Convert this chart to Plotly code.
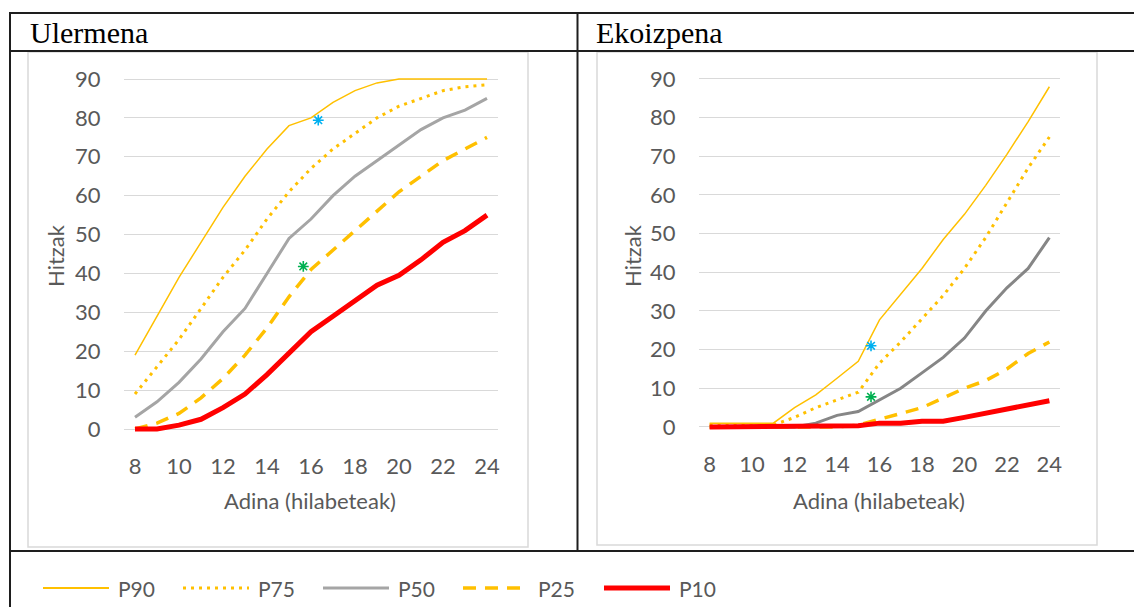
import plotly.graph_objects as go

# ---------------- data ----------------
months = list(range(8, 25))
x_ticks = [8, 10, 12, 14, 16, 18, 20, 22, 24]
y_ticks = [0, 10, 20, 30, 40, 50, 60, 70, 80, 90]

series_names = ["P90", "P75", "P50", "P25", "P10"]

ul_p90 = [19, 29, 39, 48, 57, 65, 72, 78, 80, 84, 87, 89, 90, 90, 90, 90, 90]
ul_p75 = [9, 16, 23, 31, 39, 46, 54, 61, 67, 72, 76, 80, 83, 85, 87, 88, 88.5]
ul_p50 = [3, 7, 12, 18, 25, 31, 40, 49, 54, 60, 65, 69, 73, 77, 80, 82, 85]
ul_p25 = [0, 1.5, 4, 8, 13, 19, 26, 34, 41, 46, 51, 56, 61, 65, 69, 72, 75]
ul_p10 = [0, 0, 1, 2.5, 5.5, 9, 14, 19.5, 25, 29, 33, 37, 39.5, 43.5, 48, 51, 55]

ek_p90 = [1, 1, 1, 1, 5, 8.3, 12.6, 17, 27.7, 34.5, 41, 48.5, 55, 62.5, 70.5, 79, 88]
ek_p75 = [0.5, 0.5, 0.5, 0.5, 2.5, 5, 7, 9, 16.5, 22, 28, 34, 41, 49, 58, 67, 75]
ek_p50 = [0, 0, 0, 0, 0, 1, 3, 4, 7, 10, 14, 18, 23, 30, 36, 41, 49]
ek_p25 = [0, 0, 0, 0, 0, 0, 0, 0.5, 2, 3.5, 5, 7.5, 10, 12, 15, 19, 22]
ek_p10 = [0, 0, 0, 0, 0, 0, 0, 0.3, 1, 1, 1.5, 1.5, 2.5, 3.5, 4.5, 5.5, 6.8]

# asterisk markers (x, y)
ul_star_x = [16.33, 15.65]
ul_star_y = [79.4, 41.8]
ek_star_x = [15.6, 15.6]
ek_star_y = [21, 7.8]
star_colors = ["#00B0F0", "#00B050"]

panel_titles = ["Ulermena", "Ekoizpena"]
y_title = "Hitzak"
x_title = "Adina (hilabeteak)"

# ---------------- styles ----------------
W, H = 1134, 607
YELLOW = "#FFC000"
styles = {
    "P90": dict(color=YELLOW, width=1.5, dash="solid"),
    "P75": dict(color=YELLOW, width=3, dash="3px,5px"),
    "P50": dict(color="#A5A5A5", width=3, dash="solid"),
    "P25": dict(color=YELLOW, width=3.5, dash="13px,9px"),
    "P10": dict(color="#FF0000", width=5, dash="solid"),
}
TXT = "#595959"
TICKFONT = dict(family="Lato", size=22, color=TXT)


def px(x):
    return x / W


def py(y):
    return 1 - y / H


fig = go.Figure()

panels = [
    dict(xa="x", ya="y", series=[ul_p90, ul_p75, ul_p50, ul_p25, ul_p10],
         sx=ul_star_x, sy=ul_star_y, left=124, right=498, y0=429, y90=79, grey="#A5A5A5"),
    dict(xa="x2", ya="y2", series=[ek_p90, ek_p75, ek_p50, ek_p25, ek_p10],
         sx=ek_star_x, sy=ek_star_y, left=699, right=1060, y0=427, y90=79, grey="#868686"),
]

YMIN, YMAX = -2, 92
for i, p in enumerate(panels):
    for name, vals in zip(series_names, p["series"]):
        st = dict(styles[name])
        if name == "P50":
            st["color"] = p["grey"]
        fig.add_trace(go.Scatter(
            x=months, y=vals, mode="lines", name=name, showlegend=False,
            line=dict(color=st["color"], width=st["width"], dash=st["dash"]),
            xaxis=p["xa"], yaxis=p["ya"], hoverinfo="skip"))
    fig.add_trace(go.Scatter(
        x=p["sx"], y=p["sy"], mode="markers", showlegend=False,
        marker=dict(symbol="asterisk", size=9, color=star_colors,
                    line=dict(color=star_colors, width=1.6)),
        xaxis=p["xa"], yaxis=p["ya"], hoverinfo="skip"))

    unit = (p["y0"] - p["y90"]) / 90.0
    bot = p["y0"] - YMIN * unit
    top = p["y90"] - (YMAX - 90) * unit
    suffix = "" if i == 0 else "2"
    fig.update_layout(**{
        "xaxis" + suffix: dict(
            domain=[px(p["left"]), px(p["right"])], range=[7.5, 24.5],
            tickvals=x_ticks, ticktext=[str(v) for v in x_ticks],
            showgrid=False, zeroline=False, showline=False, automargin=False,
            ticks="outside", ticklen=10, tickcolor="rgba(0,0,0,0)",
            tickfont=TICKFONT, anchor="y" + suffix, fixedrange=True),
        "yaxis" + suffix: dict(
            domain=[py(bot), py(top)], range=[YMIN, YMAX],
            tickvals=y_ticks, ticktext=[str(v) for v in y_ticks],
            showgrid=True, gridcolor="#D9D9D9", gridwidth=1,
            zeroline=False, showline=False, automargin=False,
            ticks="outside", ticklen=18, tickcolor="rgba(0,0,0,0)",
            tickfont=TICKFONT, anchor="x" + suffix, fixedrange=True),
    })

shapes = []
annotations = []

# inner chart frames (drawn first so the table lines sit on top)
for (x0, x1, y0, y1) in [(28, 528, 52, 547), (597, 1097, 52, 545)]:
    shapes.append(dict(type="rect", xref="paper", yref="paper", layer="below",
                       x0=px(x0), x1=px(x1), y0=py(y1), y1=py(y0),
                       line=dict(color="#D9D9D9", width=1.5)))

# table lines
LC = "#1E1E1E"
def hline(y, x0, x1, w=2):
    shapes.append(dict(type="line", xref="paper", yref="paper",
                       x0=px(x0), x1=px(x1), y0=py(y), y1=py(y),
                       line=dict(color=LC, width=w)))
def vline(x, y0, y1, w=2):
    shapes.append(dict(type="line", xref="paper", yref="paper",
                       x0=px(x), x1=px(x), y0=py(y0), y1=py(y1),
                       line=dict(color=LC, width=w)))

hline(13, 9, W)
hline(51, 9, W)
hline(551, 9, W)
vline(10, 12, H)
vline(577.5, 12, 552)

# panel titles
for t, x in zip(panel_titles, [28, 594]):
    annotations.append(dict(text=t, x=px(x), y=py(33), xref="paper", yref="paper",
                            xanchor="left", yanchor="middle", showarrow=False,
                            font=dict(family="Liberation Serif", size=30, color="#000000")))

# axis titles
for xc in [55, 632]:
    annotations.append(dict(text=y_title, x=px(xc), y=py(256), xref="paper", yref="paper",
                            xanchor="center", yanchor="middle", showarrow=False, textangle=-90,
                            font=dict(family="Lato", size=22, color=TXT)))
for xc in [310, 879]:
    annotations.append(dict(text=x_title, x=px(xc), y=py(500), xref="paper", yref="paper",
                            xanchor="center", yanchor="middle", showarrow=False,
                            font=dict(family="Lato", size=22, color=TXT)))

# custom legend
leg_y = 588
leg_x0 = [43, 183, 323, 463, 604]
for name, x0 in zip(series_names, leg_x0):
    st = styles[name]
    shapes.append(dict(type="line", xref="paper", yref="paper",
                       x0=px(x0), x1=px(x0 + 66), y0=py(leg_y), y1=py(leg_y),
                       line=dict(color=st["color"], width=st["width"] + (0.5 if name == "P90" else 0),
                                 dash=st["dash"])))
    annotations.append(dict(text=name, x=px(x0 + 73), y=py(leg_y), xref="paper", yref="paper",
                            xanchor="left", yanchor="middle", showarrow=False,
                            font=dict(family="Lato", size=21, color=TXT)))

fig.update_layout(
    width=W, height=H, margin=dict(l=0, r=0, t=0, b=0, pad=0, autoexpand=False),
    paper_bgcolor="white", plot_bgcolor="white",
    shapes=shapes, annotations=annotations, showlegend=False,
)

fig.write_html(
    "out.html",
    config={"displayModeBar": False, "staticPlot": True},
    post_script="document.body.style.margin='0';document.body.style.overflow='hidden';",
)
